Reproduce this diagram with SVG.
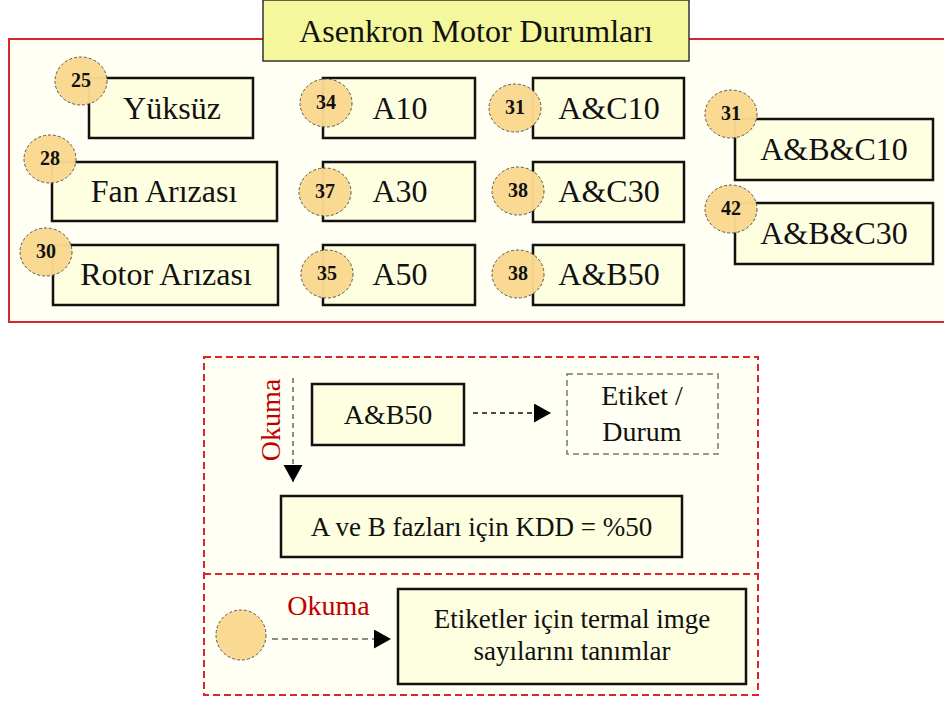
<svg xmlns="http://www.w3.org/2000/svg" width="944" height="702" viewBox="0 0 944 702">
<defs>
<style>
.box{fill:#fefee0;stroke:#111;stroke-width:2.5}
.num{fill:#fad98f;fill-opacity:0.97;stroke:#555;stroke-width:1;stroke-dasharray:3 2}
.lbl{font-family:"Liberation Serif","Times New Roman",serif;font-size:32px;fill:#111;text-anchor:middle}
.lbl2{font-family:"Liberation Serif","Times New Roman",serif;font-size:28px;fill:#111;text-anchor:middle}
.lbl3{font-family:"Liberation Serif","Times New Roman",serif;font-size:27px;fill:#111;text-anchor:middle}
.n{font-family:"Liberation Serif","Times New Roman",serif;font-size:20px;font-weight:bold;fill:#111;text-anchor:middle}
.red{font-family:"Liberation Serif","Times New Roman",serif;font-size:28px;fill:#c00000;text-anchor:middle}
</style>
<marker id="tri" markerUnits="userSpaceOnUse" markerWidth="18" markerHeight="20" refX="17" refY="9.5" orient="auto">
<path d="M0,0 L17,9.5 L0,19 Z" fill="#000"/>
</marker>
</defs>
<rect width="944" height="702" fill="#ffffff"/>

<g id="panel-top">
<rect x="9" y="39" width="945" height="283" fill="#fffff3" stroke="#d9262c" stroke-width="2"/>
</g>
<g id="title">
<rect x="263" y="0" width="426" height="61" fill="#f4f79b" stroke="#333" stroke-width="1.5"/>
<text x="476" y="42" class="lbl">Asenkron Motor Durumları</text>
</g>

<g id="n-yuksuz"><rect class="box" x="89" y="78" width="164" height="60"/><text class="lbl" x="172" y="119">Yüksüz</text><ellipse class="num" cx="81" cy="81" rx="26" ry="24"/><text class="n" x="81" y="87">25</text></g>
<g id="n-fan"><rect class="box" x="52" y="162" width="225" height="59"/><text class="lbl" x="164" y="202">Fan Arızası</text><ellipse class="num" cx="50" cy="159" rx="26" ry="24"/><text class="n" x="50" y="165">28</text></g>
<g id="n-rotor"><rect class="box" x="53" y="245" width="225" height="60"/><text class="lbl" x="166" y="285">Rotor Arızası</text><ellipse class="num" cx="46" cy="252" rx="26" ry="24"/><text class="n" x="46" y="258">30</text></g>

<g id="n-a10"><rect class="box" x="323" y="78" width="152" height="60"/><text class="lbl" x="400" y="119">A10</text><ellipse class="num" cx="326" cy="103" rx="26" ry="24"/><text class="n" x="326" y="109">34</text></g>
<g id="n-a30"><rect class="box" x="323" y="162" width="152" height="59"/><text class="lbl" x="400" y="202">A30</text><ellipse class="num" cx="325" cy="192" rx="26" ry="24"/><text class="n" x="325" y="198">37</text></g>
<g id="n-a50"><rect class="box" x="323" y="245" width="152" height="60"/><text class="lbl" x="400" y="285">A50</text><ellipse class="num" cx="327" cy="274" rx="26" ry="24"/><text class="n" x="327" y="280">35</text></g>

<g id="n-ac10"><rect class="box" x="533" y="78" width="151" height="60"/><text class="lbl" x="609" y="119">A&amp;C10</text><ellipse class="num" cx="515" cy="108" rx="26" ry="24"/><text class="n" x="515" y="114">31</text></g>
<g id="n-ac30"><rect class="box" x="533" y="162" width="151" height="60"/><text class="lbl" x="609" y="202">A&amp;C30</text><ellipse class="num" cx="518" cy="191" rx="26" ry="24"/><text class="n" x="518" y="197">38</text></g>
<g id="n-ab50"><rect class="box" x="533" y="245" width="151" height="60"/><text class="lbl" x="609" y="285">A&amp;B50</text><ellipse class="num" cx="518" cy="274" rx="26" ry="24"/><text class="n" x="518" y="280">38</text></g>

<g id="n-abc10"><rect class="box" x="735" y="119" width="198" height="61"/><text class="lbl" x="834" y="160">A&amp;B&amp;C10</text><ellipse class="num" cx="731" cy="114" rx="26" ry="24"/><text class="n" x="731" y="120">31</text></g>
<g id="n-abc30"><rect class="box" x="735" y="203" width="198" height="61"/><text class="lbl" x="834" y="244">A&amp;B&amp;C30</text><ellipse class="num" cx="731" cy="209" rx="26" ry="24"/><text class="n" x="731" y="215">42</text></g>

<g id="panel-bottom">
<rect x="204" y="357" width="554" height="338" fill="#fffff3" stroke="#d9262c" stroke-width="2" stroke-dasharray="7 4"/>
<line x1="204" y1="574" x2="758" y2="574" stroke="#d9262c" stroke-width="2" stroke-dasharray="7 4"/>
</g>
<g id="l-ab50"><rect class="box" x="312" y="384" width="152" height="61"/><text class="lbl2" x="388" y="424">A&amp;B50</text></g>
<g id="l-etiket"><rect x="567" y="374" width="151" height="80" fill="none" stroke="#777" stroke-width="1.5" stroke-dasharray="6 4"/><text class="lbl2" x="642" y="405">Etiket /</text><text class="lbl2" x="642" y="441">Durum</text></g>
<g id="l-kdd"><rect class="box" x="281" y="496" width="401" height="61"/><text class="lbl3" x="481.5" y="536">A ve B fazları için KDD = %50</text></g>
<g id="l-circle"><circle class="num" cx="241" cy="635" r="25"/></g>
<g id="l-desc"><rect class="box" x="398" y="589" width="348" height="95"/><text class="lbl3" x="572" y="628">Etiketler için termal imge</text><text class="lbl3" x="572" y="660">sayılarını tanımlar</text></g>

<g id="connectors">
<line x1="473" y1="413" x2="551" y2="413" stroke="#111" stroke-width="1.5" stroke-dasharray="5 4" marker-end="url(#tri)"/>
<line x1="293" y1="378" x2="293" y2="482" stroke="#666" stroke-width="1.5" stroke-dasharray="5 4" marker-end="url(#tri)"/>
<line x1="272" y1="639" x2="391" y2="639" stroke="#666" stroke-width="1.5" stroke-dasharray="6 4" marker-end="url(#tri)"/>
<text class="red" transform="translate(280,420) rotate(-90)">Okuma</text>
<text class="red" x="328.5" y="615">Okuma</text>
</g>
</svg>
